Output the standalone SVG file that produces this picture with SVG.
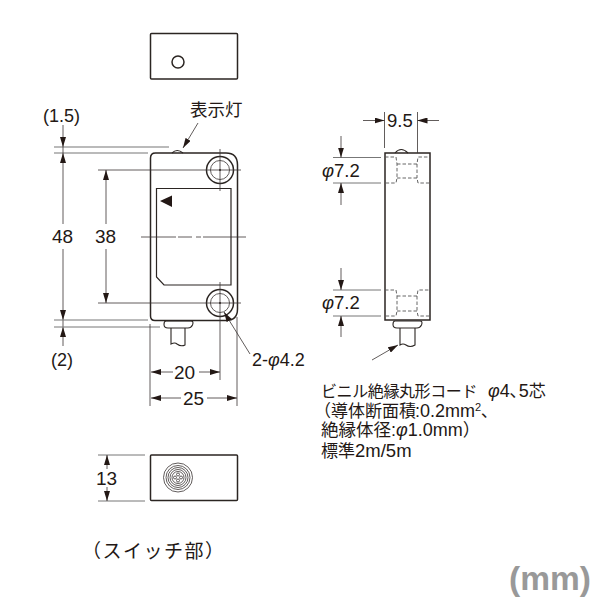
<svg xmlns="http://www.w3.org/2000/svg" width="600" height="600" viewBox="0 0 600 600">
<defs>
<marker id="a" viewBox="0 0 10 6" refX="10" refY="3" markerWidth="10" markerHeight="6" markerUnits="userSpaceOnUse" orient="auto-start-reverse"><path d="M0 0L10 3L0 6Z" fill="#231815"/></marker>
</defs>
<style>
text{font-family:"Liberation Sans","Noto Sans CJK JP",sans-serif;fill:#231815;font-size:18px}
.c{font-size:17px}
.b{fill:none;stroke:#2b2522;stroke-width:1.5}
.t{fill:none;stroke:#3a3432;stroke-width:.8}
.g{fill:none;stroke:#777;stroke-width:1}
.d{fill:none;stroke:#555;stroke-width:.9;stroke-dasharray:3.5 2}
.p{fill:none;stroke:#2b2522;stroke-width:1.100}
.m{marker-end:url(#a)}
</style>
<rect width="600" height="600" fill="#fff"/>
<g id="top-view"><rect class="b" x="150.500" y="33.500" width="87" height="45.500" rx="1"/><circle class="b" cx="178" cy="62" r="6"/></g>
<g id="front-view">
<path class="b" d="M150.500 158Q150.500 153 155.500 153H226Q237.500 153 237.500 165V309Q237.500 320.500 226 320.500H155Q150.500 320.500 150.500 316Z"/>
<path class="p" d="M172 153Q177 148 183 153"/>
<path class="b" style="stroke-width:1.200" d="M156.500 188.500H231V285H164L156.500 277Z"/>
<path d="M160 201L172 195.500V207Z" fill="#231815"/>
<circle class="b" cx="220" cy="170" r="13.500"/><circle class="t" cx="220" cy="170" r="9.500"/><circle cx="220" cy="170" r="1" fill="#231815"/>
<circle class="b" cx="220" cy="303" r="13.500"/><circle class="t" cx="220" cy="303" r="9.500"/><circle cx="220" cy="303" r="1" fill="#231815"/>
<path class="p" d="M166 321H191Q194 321 192.500 325Q191 328 188 328H168Q164 328 164 324.500Q164 321 166 321M171 328V344Q175 342 177 344Q181 347 185 345V328"/>
</g>
<g id="side-view">
<rect class="b" x="385" y="153" width="45" height="167"/>
<path class="p" d="M395 153Q401 146 408 153"/>
<path class="d" d="M385 157H396L397 164V178L396 183H385M397 164H417L418 157H430M397 178H417L418 183H430M417 164V178"/>
<path class="d" d="M385 290H396L397 296V311L396 316H385M397 296H417L418 290H430M397 311H417L418 316H430M417 296V311"/>
<path class="p" d="M395 321H420Q423 321 421.500 325Q420 328 417 328H397Q393 328 393 324.500Q393 321 395 321M400 328V345Q403 343 406 345Q410 348 415 345V328"/>
</g>
<g id="bottom-view">
<rect class="b" x="150.500" y="455" width="87" height="45.500" rx="1"/>
<circle class="t" cx="178" cy="477.500" r="14.500"/><circle class="t" cx="178" cy="477.500" r="12"/><circle class="t" cx="178" cy="477.500" r="10"/><circle class="t" cx="178" cy="477.500" r="8"/><circle class="t" cx="178" cy="477.500" r="6"/><circle class="t" cx="178" cy="474.500" r="1.500"/><circle class="t" cx="178" cy="480.500" r="1.500"/><circle class="t" cx="175" cy="477.500" r="1.500"/><circle class="t" cx="181" cy="477.500" r="1.500"/>
</g>
<g id="connectors">
<path class="g" style="stroke-width:1.200" d="M54 147H169M54 153H148"/>
<path class="t m" d="M63 125V147"/><path class="t m" d="M63 224V153"/><path class="t" d="M63 147V153"/>
<path class="t m" d="M63 249V320"/><path class="t m" d="M63 346V327"/><path class="t" d="M63 320V327"/>
<path class="g" d="M54 320H148M54 327H160"/>
<path class="t" d="M98 170H241M98 303H241M220 149V191M220 282V380M141 237H176M178 237H192M196 237H201M203 237H246"/>
<path class="t m" d="M106 224V170"/><path class="t m" d="M106 249V303"/>
<path class="t" d="M150 324V406M237 317V406"/>
<path class="t m" d="M173 372H151"/><path class="t m" d="M199 372H220"/>
<path class="t m" d="M181 398H151"/><path class="t m" d="M207 398H237"/>
<path class="t m" d="M198 123L183 148"/>
<path class="t m" d="M250 354L224 312"/>
<path class="t" d="M384.500 112V148M417.500 112V153"/>
<path class="t m" d="M363 120.500H384.500"/><path class="t m" d="M439 120.500H417.500"/>
<path class="g" d="M333 157.500H381M333 183H381M333 290H381M333 316H381"/>
<path class="t m" d="M341 136V157.500"/><path class="t m" d="M341 205V183"/>
<path class="t m" d="M341 268V290"/><path class="t m" d="M341 337V316"/>
<path class="t m" d="M372 360L398 345"/>
<path class="g" d="M98 455H145M98 501H145"/>
<path class="t m" d="M107 469V455"/><path class="t m" d="M107 487V501"/>
</g>
<g id="labels">
<text x="43" y="122">(1.5)</text>
<text x="190" y="116" style="font-size:17.500px">表示灯</text>
<text x="52" y="243" style="font-size:19px">48</text>
<text x="95" y="243" style="font-size:19px">38</text>
<text x="51" y="366">(2)</text>
<text x="252" y="366">2-<tspan font-style="italic">φ</tspan>4.2</text>
<text x="174" y="379" style="font-size:19px">20</text>
<text x="183" y="405" style="font-size:19px">25</text>
<text x="387" y="127" style="font-size:18.500px">9.5</text>
<text x="322" y="177" style="font-size:18.500px"><tspan font-style="italic">φ</tspan>7.2</text>
<text x="322" y="309" style="font-size:18.500px"><tspan font-style="italic">φ</tspan>7.2</text>
<text x="321" y="397" style="font-size:16px;letter-spacing:-.4px">ビニル絶縁丸形コード<tspan x="488" style="font-size:18px;letter-spacing:0" font-style="italic">φ</tspan><tspan style="font-size:18px;letter-spacing:0">4､5</tspan><tspan class="c" style="letter-spacing:0">芯</tspan></text>
<text x="314" y="417" class="c">（導体断面積<tspan x="415" style="font-size:18px">:0.2mm</tspan><tspan dy="-6" style="font-size:11px">2</tspan><tspan dy="6">､</tspan></text>
<text x="321" y="436" class="c" style="font-size:17.500px">絶縁体径<tspan style="font-size:18px">:</tspan><tspan style="font-size:18px" font-style="italic">φ</tspan><tspan style="font-size:18px">1.0mm</tspan>）</text>
<text x="321" y="457" style="font-size:18.500px"><tspan class="c">標準</tspan>2m/5m</text>
<text x="96" y="485" style="font-size:19px">13</text>
<text x="82" y="558" style="font-size:19px;letter-spacing:1.500px">（スイッチ部）</text>
<text x="509" y="590" style="font-size:33.500px;font-weight:bold;fill:#999">(mm)</text>
</g>
</svg>
